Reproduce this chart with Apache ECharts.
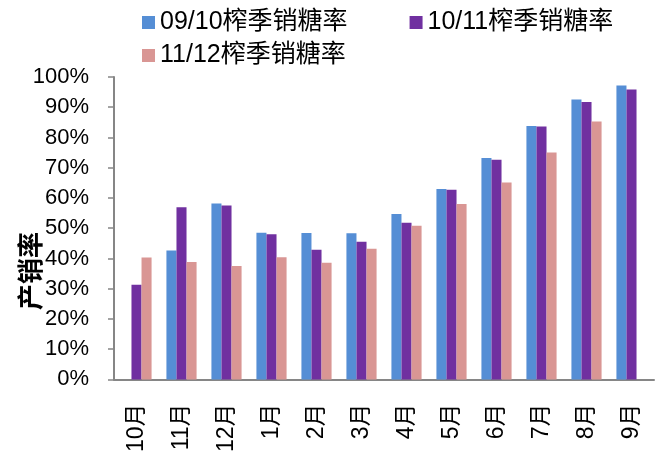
<!DOCTYPE html>
<html>
<head>
<meta charset="utf-8">
<script src="https://cdn.jsdelivr.net/npm/echarts@6/dist/echarts.min.js"></script>
<style>
  html, body { margin: 0; padding: 0; background: #fff; }
  #chart { width: 665px; height: 455px; }
</style>
</head>
<body>
<div id="chart"></div>
<script>
// Months of the crushing season
var months = ['10月', '11月', '12月', '1月', '2月', '3月', '4月', '5月', '6月', '7月', '8月', '9月'];

// Sales-to-production ratio (%) for each season
var season0910 = [null, 42.6, 58.2, 48.5, 48.4, 48.3, 54.7, 63.0, 73.2, 83.8, 92.6, 97.2];
var season1011 = [31.3, 56.9, 57.5, 48.0, 42.9, 45.5, 51.8, 62.7, 72.6, 83.6, 91.7, 95.9];
var season1112 = [40.3, 38.8, 37.5, 40.4, 38.6, 43.2, 50.8, 58.0, 65.1, 75.0, 85.3, null];

var seriesNames = ['09/10榨季销糖率', '10/11榨季销糖率', '11/12榨季销糖率'];
var seriesColors = ['#558ED5', '#7030A0', '#D99694'];

// Y axis tick values (%)
var yMin = 0, yMax = 100, yStep = 10;

var FONT = "'Liberation Sans', 'Noto Sans CJK SC', sans-serif";

var chart = echarts.init(document.getElementById('chart'), null, { renderer: 'canvas' });

function barSeries(i, values) {
  return {
    name: seriesNames[i],
    type: 'bar',
    data: values.map(function (v) { return v === null ? '-' : v; }),
    itemStyle: { color: seriesColors[i] },
    barGap: '0%',
    barCategoryGap: '33%',
    animation: false
  };
}

var legendText = { fontFamily: FONT, fontSize: 25, color: '#000', lineHeight: 27 };

chart.setOption({
  animation: false,
  backgroundColor: '#fff',
  legend: [
    {
      data: [seriesNames[0], seriesNames[1]],
      left: 137, top: 4,
      itemWidth: 13, itemHeight: 13, itemGap: 62,
      icon: 'rect',
      textStyle: legendText,
      selectedMode: false
    },
    {
      data: [seriesNames[2]],
      left: 137, top: 37,
      itemWidth: 13, itemHeight: 13,
      icon: 'rect',
      textStyle: legendText,
      selectedMode: false
    }
  ],
  grid: { left: 114, right: 11, top: 77, bottom: 69, containLabel: false },
  xAxis: {
    type: 'category',
    data: months,
    axisLine: { lineStyle: { color: '#868686', width: 2 } },
    axisTick: { show: false },
    axisLabel: {
      rotate: 90, margin: 24, interval: 0,
      fontFamily: FONT, fontSize: 23, color: '#000'
    }
  },
  yAxis: {
    type: 'value',
    min: yMin, max: yMax, interval: yStep,
    splitLine: { show: false },
    axisLine: { show: true, lineStyle: { color: '#868686', width: 2 } },
    axisTick: { show: true, inside: false, length: 6, lineStyle: { color: '#868686', width: 1.5 } },
    axisLabel: {
      margin: 25,
      formatter: '{value}%',
      fontFamily: FONT, fontSize: 22, color: '#000'
    }
  },
  graphic: [
    {
      type: 'text',
      x: 30, y: 271,
      rotation: Math.PI / 2,
      style: {
        text: '产销率',
        fontFamily: "'Noto Sans CJK SC', sans-serif",
        fontSize: 26, fontWeight: 'bold',
        fill: '#000',
        textAlign: 'center', textVerticalAlign: 'middle'
      }
    }
  ],
  series: [
    barSeries(0, season0910),
    barSeries(1, season1011),
    barSeries(2, season1112)
  ]
});
</script>
</body>
</html>
